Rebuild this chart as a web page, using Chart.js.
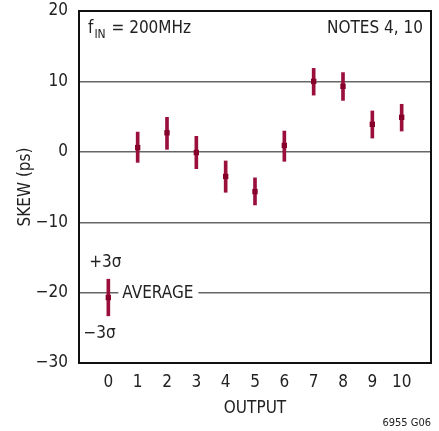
<!DOCTYPE html>
<html>
<head>
<meta charset="utf-8">
<script src="https://cdn.jsdelivr.net/npm/chart.js@4/dist/chart.umd.min.js"></script>
<style>
  html, body { margin: 0; padding: 0; background: #fff; }
  #wrap { width: 439px; height: 431px; }
</style>
</head>
<body>
<div id="wrap"><canvas id="skew"></canvas></div>
<script>
// Output skew at fIN = 200MHz. Output 0 is the legend key (average, ±3σ).
const outputs = [0, 1, 2, 3, 4, 5, 6, 7, 8, 9, 10];
const skewAvg = [-20.7, 0.6, 2.7, -0.1, -3.5, -5.65, 0.9, 10.0, 9.3, 3.9, 4.9];
const skewPlus3 = [-18.1, 2.8, 4.9, 2.2, -1.3, -3.7, 2.95, 11.85, 11.25, 5.8, 6.75];
const skewMinus3 = [-23.3, -1.5, 0.35, -2.4, -5.75, -7.55, -1.35, 8.05, 7.3, 1.95, 2.95];
const yTicks = [-30, -20, -10, 0, 10, 20];

const C = { bar: '#9a0f3c', mark: '#86002c', grid: '#666', frame: '#111', text: '#222' };
const FONT = "'Liberation Sans Narrow', 'DejaVu Sans Condensed', 'Arial Narrow', sans-serif";
const FS = 17;

Chart.defaults.font.family = FONT;
Chart.defaults.font.size = FS;
Chart.defaults.color = C.text;

const minus = v => (v < 0 ? '\u2212' + Math.abs(v) : String(v));

// Frame, labels and the "AVERAGE" key text drawn on the canvas.
const notes = {
  id: 'notes',
  beforeDatasetsDraw(chart) {
    const { ctx, scales: { x, y } } = chart;
    ctx.save();
    ctx.font = `${FS}px ${FONT}`;
    const tx = x.getPixelForValue(0) + 14;
    const ty = y.getPixelForValue(-20);
    const w = ctx.measureText('AVERAGE').width;
    ctx.fillStyle = '#fff';
    ctx.fillRect(tx - 4, ty - 3, w + 9, 6);
    ctx.fillStyle = C.text;
    ctx.textBaseline = 'middle';
    ctx.fillText('AVERAGE', tx, ty + 1);
    ctx.textAlign = 'center';
    ctx.fillText('+3\u03c3', x.getPixelForValue(-0.1), y.getPixelForValue(-15.8));
    ctx.fillText('\u22123\u03c3', x.getPixelForValue(-0.3), y.getPixelForValue(-25.8));
    ctx.restore();
  },
  afterDraw(chart) {
    const { ctx, chartArea: a } = chart;
    ctx.save();
    ctx.strokeStyle = C.frame;
    ctx.lineWidth = 2;
    ctx.strokeRect(a.left, a.top, a.right - a.left, a.bottom - a.top);

    ctx.fillStyle = C.text;
    ctx.textBaseline = 'alphabetic';
    const by = a.top + 22;
    let px = a.left + 9;
    ctx.font = `${FS}px ${FONT}`;
    ctx.fillText('f', px, by);
    px += ctx.measureText('f').width + 1;
    ctx.font = `12px ${FONT}`;
    ctx.fillText('IN', px, by + 5);
    px += ctx.measureText('IN').width + 1;
    ctx.font = `${FS}px ${FONT}`;
    ctx.fillText(' = 200MHz', px, by);

    ctx.textAlign = 'right';
    ctx.fillText('NOTES 4, 10', a.right - 8, by);

    ctx.font = `11px ${FONT}`;
    ctx.fillText('6955 G06', a.right, 426);
    ctx.restore();
  },
};

new Chart(document.getElementById('skew'), {
  type: 'bar',
  data: {
    datasets: [
      {
        type: 'bar',
        data: outputs.map((o, i) => ({ x: o, y: [skewMinus3[i], skewPlus3[i]] })),
        backgroundColor: C.bar,
        borderWidth: 0,
        barThickness: 3,
        order: 2,
      },
      {
        type: 'scatter',
        data: outputs.map((o, i) => ({ x: o, y: skewAvg[i] })),
        pointStyle: 'rect',
        pointRadius: 3.8,
        backgroundColor: C.mark,
        borderWidth: 0,
        order: 1,
      },
    ],
  },
  options: {
    responsive: true,
    maintainAspectRatio: false,
    animation: false,
    layout: { padding: { top: 0, right: 8, bottom: 0, left: 0 } },
    plugins: { legend: { display: false }, tooltip: { enabled: false } },
    scales: {
      x: {
        type: 'linear',
        offset: false,
        min: -1, max: 11,
        afterFit: s => { s.height = 68; },
        afterBuildTicks: s => { s.ticks = [-1, ...outputs, 11].map(v => ({ value: v })); },
        grid: { display: false, offset: false },
        border: { display: false },
        ticks: {
          autoSkip: false, maxRotation: 0, padding: 1, color: C.text,
          callback: v => (outputs.includes(v) ? String(v) : ''),
        },
        title: { display: true, text: 'OUTPUT', color: C.text, font: { size: FS }, padding: { top: 0, bottom: 12 } },
      },
      y: {
        min: -30, max: 20,
        afterFit: s => { s.width = 79; s.paddingTop = 11; s.paddingBottom = 0; },
        afterBuildTicks: s => { s.ticks = yTicks.map(v => ({ value: v })); },
        grid: {
          drawTicks: false,
          lineWidth: 1.4,
          color: c => (c.tick && (c.tick.value === 20 || c.tick.value === -30) ? 'rgba(0,0,0,0)' : C.grid),
        },
        border: { display: false },
        ticks: { padding: 11, color: C.text, callback: v => minus(v) },
        title: { display: true, text: 'SKEW (ps)', color: C.text, font: { size: FS }, padding: { top: 15, bottom: 0 } },
      },
    },
  },
  plugins: [notes],
});
</script>
</body>
</html>
